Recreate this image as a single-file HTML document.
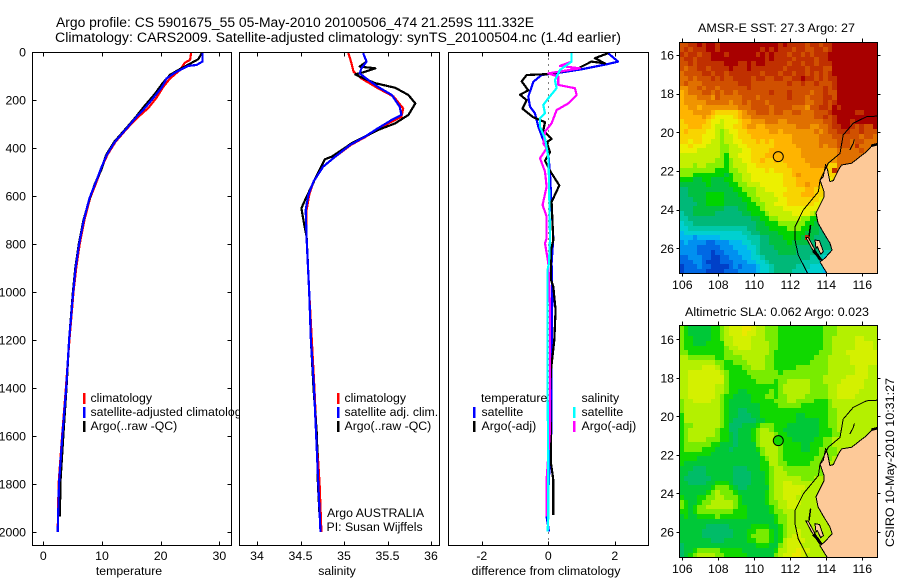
<!DOCTYPE html>
<html lang="en">
<head>
<meta charset="utf-8">
<title>Argo profile CS 5901675_55</title>
<style>
html,body{margin:0;padding:0;background:#fff;}
svg{display:block;}
text{font-family:"Liberation Sans",sans-serif;font-size:12.3px;fill:#000;}
.title{font-size:13.5px;}
</style>
</head>
<body>
<svg id="chart" xmlns="http://www.w3.org/2000/svg" width="900" height="580" viewBox="0 0 900 580">
  <rect x="0" y="0" width="900" height="580" fill="#fff"/>
  <text class="title" x="56" y="27" textLength="478" lengthAdjust="spacingAndGlyphs">Argo profile: CS 5901675_55 05-May-2010 20100506_474 21.259S 111.332E</text>
  <text class="title" x="55" y="42" textLength="566" lengthAdjust="spacingAndGlyphs">Climatology: CARS2009. Satellite-adjusted climatology: synTS_20100504.nc (1.4d earlier)</text>

  <g id="panel-temp"></g>
  <g>
    <rect x="83" y="393" width="2.5" height="11" fill="#f00"/>
    <text x="90.5" y="402">climatology</text>
    <rect x="83" y="407" width="2.5" height="11" fill="#00f"/>
    <text x="90.5" y="416">satellite-adjusted climatology</text>
    <rect x="83" y="421" width="2.5" height="11" fill="#000"/>
    <text x="90.5" y="430">Argo(..raw -QC)</text>
  </g>

  <rect x="239" y="46" width="204" height="502" fill="#fff"/>
  <g id="panel-sal"></g>
  <g>
    <rect x="337" y="393" width="2.5" height="11" fill="#f00"/>
    <text x="344.5" y="402">climatology</text>
    <rect x="337" y="407" width="2.5" height="11" fill="#00f"/>
    <text x="344.5" y="416">satellite adj. clim.</text>
    <rect x="337" y="421" width="2.5" height="11" fill="#000"/>
    <text x="344.5" y="430">Argo(..raw -QC)</text>
  </g>
  <text x="327" y="517">Argo AUSTRALIA</text>
  <text x="326.5" y="531">PI: Susan Wijffels</text>

  <g id="panel-diff"></g>
  <g>
    <text x="481" y="402">temperature</text>
    <rect x="473" y="407" width="2.5" height="11" fill="#00f"/>
    <text x="481.5" y="416">satellite</text>
    <rect x="473" y="421" width="2.5" height="11" fill="#000"/>
    <text x="481.5" y="430">Argo(-adj)</text>
    <text x="581.5" y="402">salinity</text>
    <rect x="573" y="407" width="2.5" height="11" fill="#0ff"/>
    <text x="581.5" y="416">satellite</text>
    <rect x="573" y="421" width="2.5" height="11" fill="#f0f"/>
    <text x="581.5" y="430">Argo(-adj)</text>
  </g>

  <text x="129" y="575" text-anchor="middle">temperature</text>
  <text x="337" y="575" text-anchor="middle">salinity</text>
  <text x="546" y="575" text-anchor="middle" textLength="149" lengthAdjust="spacingAndGlyphs">difference from climatology</text>

  <text x="698" y="32" textLength="157" lengthAdjust="spacingAndGlyphs">AMSR-E SST: 27.3 Argo: 27</text>
  <g id="map-sst"></g>
  <text x="685" y="316" textLength="184" lengthAdjust="spacingAndGlyphs">Altimetric SLA: 0.062 Argo: 0.023</text>
  <g id="map-sla"></g>
  <text transform="translate(894 547) rotate(-90)" x="0" y="0" textLength="169" lengthAdjust="spacingAndGlyphs">CSIRO 10-May-2010 10:31:27</text>
</svg>

<script>
// ---------- profile data ----------
const depthTicks = [0,200,400,600,800,1000,1200,1400,1600,1800,2000];
const tempTicks = [0,10,20,30];
const salTicks = [34,34.5,35,35.5,36];
const salTickLabels = ['34','34.5','35','35.5','36'];
const diffTicks = [-2,0,2];

const tempClimDepth = [0,33,45,75,110,147,190,233,270,318,374,429,478,533,610,700,800,900,1000,1200,1400,1600,1800,2000];
const tempClimValue = [25.2,25,24.1,23.3,21.6,20.4,19.3,17.9,16.2,14.3,12.3,10.9,10.0,9.2,7.95,7.0,6.2,5.6,5.15,4.45,3.85,3.2,2.6,2.45];
const tempSatDepth = [0,40,54,58,82,110,147,193,242,270,318,374,429,478,533,610,700,800,900,1000,1200,1400,1600,1800,2000];
const tempSatValue = [27.1,27.1,26.1,24.7,22.7,21,20.2,18.7,17,15.9,14.2,12.2,10.8,9.95,9.1,7.85,6.9,6.1,5.5,5.1,4.4,3.9,3.24,2.67,2.45];
const tempArgoDepth = [4,30,50,75,95,128,175,232,270,318,374,429,490,548,610,700,800,900,1000,1200,1400,1600,1800,1935];
const tempArgoValue = [27,26.4,24.9,23,21.6,20.4,19,17,15.8,14.1,12.1,10.7,9.9,8.8,7.9,6.85,6.05,5.45,5.05,4.4,3.95,3.4,2.9,2.85];

const salClimDepth = [4,40,82,110,151,186,235,270,290,318,353,387,436,478,540,596,658,776,1000,1200,1400,1600,1800,2000];
const salClimValue = [35.05,35.08,35.11,35.2,35.39,35.57,35.68,35.66,35.55,35.4,35.25,35.08,34.9,34.76,34.65,34.6,34.57,34.57,34.6,34.63,34.66,34.685,34.72,34.74];
const salSatDepth = [5,40,68,89,117,145,179,228,262,283,318,353,387,436,478,540,596,658,776,1000,1200,1400,1600,1800,2000];
const salSatValue = [35.22,35.26,35.2,35.18,35.28,35.39,35.55,35.64,35.66,35.55,35.39,35.24,35.07,34.9,34.76,34.65,34.59,34.56,34.57,34.6,34.62,34.655,34.68,34.705,34.73];
const salArgoDepth = [5,40,61,68,85,93,103,130,149,179,214,262,297,325,380,436,447,505,603,651,714,770,1000,1200,1400,1600,1800,1935];
const salArgoValue = [35.22,35.26,35.18,35.36,35.22,35.13,35.18,35.36,35.59,35.74,35.82,35.74,35.59,35.39,35.09,34.86,34.78,34.7,34.57,34.51,34.54,34.57,34.6,34.62,34.65,34.69,34.7,34.72];

const diffTempSatDepth = [5,40,50,72,89,96,124,186,228,256,311,367,422,506,644,776,880,1000,1297,1575,1644,1783,1936,1998];
const diffTempSatValue = [1.8,2.1,1.8,1,0.2,-0.2,-0.45,-0.6,-0.55,-0.4,-0.3,-0.15,0,0.05,0.1,0.15,0.1,0.12,0.1,0.1,0.05,0.02,-0.05,0.02];
const diffTempArgoDepth = [5,26,47,40,68,92,96,122,160,178,201,236,272,292,327,362,376,417,453,495,556,625,785,825,950,978,1075,1200,1325,1422,1603,1714,1783,1930];
const diffTempArgoValue = [1.8,1.4,1.7,1.3,0.9,0,-0.65,-0.8,-0.6,-0.85,-0.65,-0.78,-0.45,-0.1,-0.15,0.1,-0.05,0.05,-0.1,0.05,0.33,0.1,0.15,0.08,0.08,0.15,0.22,0.18,0.08,0.05,0.08,0.08,0.15,0.15];
const diffSalSatDepth = [5,40,75,117,151,193,221,256,276,311,360,436,533,776,880,908,1436,1714,1936,1998];
const diffSalSatValue = [0.7,0.7,0.35,0.2,0.25,0,-0.15,-0.1,-0.25,-0.25,-0.1,0,0.02,0.05,0.02,-0.02,-0.02,0,0,-0.02];
const diffSalArgoDepth = [5,40,58,68,89,103,137,151,179,214,242,297,332,381,401,443,498,561,637,686,776,797,880,1060,1575,1783,1936];
const diffSalArgoValue = [0.7,0.7,0.35,0.95,0,0.3,0.3,0.8,0.85,0.6,0.25,0.1,-0.1,-0.15,-0.05,-0.25,-0.1,-0.05,-0.17,-0.05,-0.05,-0.1,0,0.05,0.05,-0.05,-0.05];

// ---------- map data: one letter per 0.25 degree cell, north to south ----------
const mapLonTicks = [106,108,110,112,114,116];
const mapLatTicks = [16,18,20,22,24,26];
const sstRows = [
"qqrrsrssrss sssssssssss rsrrrrqrrqr rssssssssss",
"qrqrrrssrss sssssssrsrs rrrqrrqqrrq rssssssssss",
"rqrrqrrsssr ssssssrsrsr rrqrrqrqrrr sssssssssss",
"qrrqrrrssss ssssssssrsr rrrqrrrrqrr sssssssssss",
"qqrqrrrrrrs ssrrsrssrrr rrqrrqrrqrr rssssssssss",
"qpqqrrqrrrr srrrsrrrrrr rqrrrrqrrrq qssssssssss",
"pqqqqrrqrrq rrrrrrrqrrr qrrqrrqrqrq rssssssssss",
"ppqpqqqrqrq qrrrrqrrqqr rqqrrsrrqrq rrsssssssss",
"pqpppqqqqqq qqrrrqqqqqq qqrqqrqqrqq qrsssssssss",
"ooppqpqqpqq qqqqrqqqqqq qqqqqqqqqqr qrsssssssss",
"nopppqqpqpq qpqqqqqqqrq qqrqqqqpqqr qqsssssssss",
"nooopppoqpp pppqqqpqqqq qqrqqqpqqqr rqsssssssss",
"noooooppppp oppqpqqqpqq qqqqqqppqqr qrsssssssss",
"nnoonoooooo oopppqqqqpq qqqpppoqqrr qsrssssssss",
"nnnoooonmmm mmnoppqqqpq qppqqpppqqq rsssssrrsss",
"nnnnnonmlll lmnoopppppp ppppppppqqr qrsssssssss",
"mnnnnnmllkl llmnnoooppp ooppppppppq qrsssrsssss",
"mmnnnmmlkkl lmmnoonnooo oooopppoopp qrrssrqrqqs",
"mnmmmmllkjk llmmnnnnnoo nooooooopop qqrrrqqrqqq",
"mmmmmlllkjk klmmmnnnnnn nnnoooooopp pqqqqqqpqqp",
"mmlmmllkkjk kllmmmnmnmn nnnoooooopp ppqqqpqqppp",
"llmlllkkkjj kkllmmmmmmn nnnnooooopo ppqqqprpppp",
"llllkkkkkjj kkkllmmmmnn nnnnnoooooo oopppppqppp",
"kkkkkkkkkji kklllmmmnnn mnnnnoooooo ooppppppppp",
"kkkkkkkkjji jkkllmmnmmn mnnnnnooooo ooppppppppp",
"kkkjkkjjjji jkkkllmmmmm mmnnnnnoooo mmppppppppp",
"jjjjjjjjiii jjkkllllmlm mmmnnnnnnnn mrppppppppp",
"jjjiiiiiiih ijjkkllllll lmmnonnnnnn mmppppppppp",
"iiihhiihhhi ijjkkllllll lmmmnnnnnnn lmppppppppp",
"hhhhhhihhhh iijjkkkllll lmmmnnonnmm mpppppppppp",
"gghhhhhhhhh hiijjjkklll llmmmmnnmmm mpppppppppp",
"gghhhhiiiih hhiijjkkkkl lmmmmnnnmmm mpppppppppp",
"ggghhhiiiih hhhiijjkkkk llmmmmmmmll lpppppppppp",
"gggghhiiiih hhhhiijjkkl llmmmmmmlll kpppppppppp",
"ggghhhhhhhg gghhiiijkkk kllllllllkk kpppppppppp",
"fgghhhhhggg ggghhiiijkk kkkllllkjjj ppppppppppp",
"ffggggggggg ggggghhiijj kkkkkjjiiih ppppppppppp",
"effgggggggg gggggghhiii jjjjjjiihhh gfppppppppp",
"eefffffffff ffffgghhhii iijjjiihhgg ggppppppppp",
"deeeeeeeeee eeeffgghhhh iiiiiihhhgg ggppppppppp",
"dddcdddddee eeeefffgghh hiiiihrhggg ggppppppppp",
"cdccccbbccc dddeeffgghh hhihhhhgggg ggppppppppp",
"ccccbbbbbcc cdddeefgggh hhhhggggggg ghppppppppp",
"ccccbbbabbc ccdddefgggg hhhhgggggff fhppppppppp",
"bbcccbbaabb cccddeefggg gggggggfffe fgppppppppp",
"bbbccbaaabb bcccddeefgg gggggffffee eeppppppppp",
"abbbcbbaaaa bcbcccdeefg ggggfffeeee eeppppppppp",
"abbbbbaaaab bbccccdeefg gggfffeeeed ddppppppppp"
];
const slaRows = [
"jihhhhhiijk lllmmlkkjjj iiiiiiiiiij jjkkkkkkkkk",
"jihhhhhiijk lllmllkkjjj iiiiiiiiiij jjkkkkkkkkk",
"jiihhhhiijk kllllkkkjjj iiiiiiiiiij jkkkkkllkkk",
"jiihhhiiiik kllllkkkkjj iiiiiiiiiij jkkkkkllllk",
"jiiiiiiiiij kklllkkkkjj iiiiiiiiiij jkkkkkllllk",
"jjiiiiiiiij jkkkkkkkkji iiiiiiiiijj jkkklllllll",
"kkjjjjjjiij jjjkkkkkjji iiiiiiiijjj kkkkkllllll",
"kkkkkkkkjji ijjjkkkkjji iiiiiiijjjj kkkkkllllll",
"kkkkklllkji iiijjkkkjji iiiijjjjjjj kkkkkklllkk",
"kklllllllkj iiiijjjjjjj ijjjjjjjjjj kkkkkklllkk",
"kkllllllllj iiiiijjjjjj jjjjjjjjjjk kkkklllllkk",
"kkllllllllj iiiiiijjjji jjkkkkkjjjk kkklllllkkk",
"kkllllllkkj iiiiiiiiiii jkkkkkkjjjj kkllllllkkk",
"kkllllllkkj iihhiiiiiji jkkkkkkjjjj kklllllkkkk",
"kkllllllkji ihhhhiiijji jjkkkkjjjjj kkllllkkkkk",
"jkkllllkkji hhhhhiiiiij jjkkjjjjiii jkkkkkkkkkk",
"jkkkkkkkkji hhhhhhhiiii jjjjjiiiiii jkkkkkkkkkk",
"jkkkkkkkkji hhgghhhiiii iiiiiiiiiii jjkkkkkkkkk",
"ikkkkkkkkji hhggghhiiii iiiihhiiiii jjkkkkkkkkk",
"ikkkkkkkkji hggggghhiii iiiihhhhhii jjkkkkkkkkk",
"ijjkkkkkkji ggghhhijjji iihhhhhhhii jjkkkkkkkkk",
"ijkkkkkkjii gghhhijkkji ihhhhhhhhii ijkkkkkkkkk",
"ijkkkkkkjii hghhhijkkkj iihhhhhhhii ijjkkkkkkkk",
"ijkkkkjjjii hghhhijkkkk iiihhhhhiij jkkkkkkkkkk",
"ijjjjjjiihh hghhhhjkkkk jiiiihhiiij jkkkkkkkkkk",
"ijjjjiiihhh ghhhhhijkkk jiiiihhiijj jjkkkkkkkkk",
"iiiiiiihhhh hhhhhhhjkkk jiiiiiiiijj jjkkkkkkkkk",
"iiiihhhhhhh hhhhhhhijkk jiiiiiiijjj jkkkkkkkkkk",
"ihhhhhhhhhh hhhhhhhiikk jjiiiiijjjj kkkkkkkkkkk",
"hhhggghhhhh hggghhhiijk kjjjjjjjjjj kkkkkkkkkkk",
"hhgggghhhhh hgggghhhijk kkjjjjjjjjk kkkkkkkkkkk",
"hgggggghhhh hgggghhhijk kkkkkjjjkkk kkkkkkkkkkk",
"hhgggghhiii hgggghhhijk kllkkkkkkkk kkkkkkkkkkk",
"hhhhhhhijjj ihgghhhhhjk klllllkkkkk kkkkkkkkkkk",
"hhhhhhijkjj jihhhhhhijk kllllkkkkkk kkkkkkkkkkk",
"ihhhiijjkkj jjihhhhhijk klllkkkkkkk kkkkkkkkkkk",
"jihhijjkkkk kjihhhhhijj kklllkkkkkk kkkkkkkkkkk",
"jihijjkkkkk kjiihhhhhij kkllkkkkkkk kkkkkkkkkkk",
"iihijjjjjjj jiiihhhhhij jkkkkkkkkkk kkkkkkkkkkk",
"hihhiiiijii iiiihhhhhhi jjkkkkkkkkk kkkkkkkkkkk",
"hhhhhhhhhhh hhhhhhhhhhi jjkkkkkkkkk kkkkkkkkkkk",
"hhhhhhggggg hhhhhiiiihh ijkkkkkkkkk kkkkkkkkkkk",
"hhhhhgggggg ghhhiijjjih ijkklkkkkkk kkkkkkkkkkk",
"hhhhhgggggg ghhhijjjjih ijkllkkkkkk kkkkkkkkkkk",
"hhhhhhhgggh hhhhiijjjih ikllllkkkkk kkkkkkkkkkk",
"ghhhhhhhhhh hhhhhhiiihh jklllkkkkkk kkkkkkkkkkk",
"ghhijjjjjii iiihhhhhhhi kkllmllkkkk kkkkkkkkkkk",
"ghijkkkkjji iiiihhhhhhj kllmmlkkkkk kkkkkkkkkkk"
];
const sstColours = {a:'#0040c8',b:'#0068e4',c:'#0090f0',d:'#00b8f0',e:'#00d0d0',f:'#00c8a8',g:'#00b878',h:'#00c040',i:'#00d400',j:'#88f000',k:'#c4f000',l:'#ecf000',m:'#f8d400',n:'#ffb400',o:'#f09400',p:'#e07000',q:'#d05000',r:'#c03000',s:'#a80000'};
const slaColours = {g:'#00bc68',h:'#00c838',i:'#10d800',j:'#78ec00',k:'#b4f000',l:'#d4f000',m:'#ece800'};
const gridWestLon = 105.83;
const gridNorthLat = 15.33;
const gridStep = 0.25;

const coastLon = [116.83,116.52,116.24,115.87,115.41,114.85,114.67,114.39,114.2,114.07,113.96,113.83,113.65,113.87,113.87,113.43,113.54,113.85,114.2,114.32,113.93,113.65,114.04];
const coastLat = [20.66,20.71,21,21.26,21.6,21.69,21.95,22.5,22.55,21.95,21.69,22.29,22.47,23.07,23.35,24.17,24.69,25.2,25.73,26.09,26.5,26.71,27.3];
const isobathLon = [116.83,116.24,115.5,114.94,114.76,114.11,113.65,113.56,112.72,112.26,112.26,112.44,112.96];
const isobathLat = [19.16,19.19,19.53,20.14,21.09,21.6,22.47,23.07,24.02,24.88,25.57,26.34,27.3];
const barrowLon = [115.56,115.5,115.31];
const barrowLat = [20.36,20.57,20.91];
const bernierLon = [113.13,113.04];
const bernierLat = [24.79,25.4];
const hartogLon = [112.87,113.19,113.62,113.74,113.43,113];
const hartogLat = [25.44,26,26.61,26.61,26.18,25.44];
const peronLon = [113.37,113.62,113.84,113.69,113.5,113.43];
const peronLat = [25.57,25.61,26.18,26.3,25.92,26];
const reefLon = [113.28,113.5,113.69];
const reefLat = [26.12,26.35,26.61];
const capeLon = [116.83,116.5];
const capeLat = [20.62,20.69];
const floatLon = 111.332;
const floatLat = 21.259;
const sstFloatLevel = 'n';
const slaFloatLevel = 'i';
const landColour = '#fdc998';

// ---------- axis functions ----------
const depthY = d => 52 + d * 0.24;
const tempX = v => 43.3 + v * 5.87;
const salX = v => 257 + (v - 34) * 87;
const diffX = v => 548.3 + v * 33.25;
const lonX = lon => 682.3 + (lon - 106) * 18;
const sstLatY = lat => 55 + (lat - 16) * 19.33;
const slaLatY = lat => 339.3 + (lat - 16) * 19.27;

const NS = 'http://www.w3.org/2000/svg';
function make(tag, attrs, parent) {
  const n = document.createElementNS(NS, tag);
  for (const k in attrs) n.setAttribute(k, attrs[k]);
  parent.appendChild(n);
  return n;
}
function frame(parent, x0, y0, x1, y1, name) {
  const r = make('rect', {x:x0, y:y0, width:x1-x0, height:y1-y0, fill:'none', stroke:'#000', 'stroke-width':1, 'shape-rendering':'crispEdges'}, parent);
  
  
}
function tick(parent, x1, y1, x2, y2) {
  const l = make('line', {x1, y1, x2, y2, stroke:'#000', 'stroke-width':1, 'shape-rendering':'crispEdges'}, parent);
  
  
}
function label(parent, x, y, str, anchor) {
  const t = make('text', {x, y, 'text-anchor':anchor}, parent);
  t.textContent = str;
  
  
}
function profile(parent, xFn, values, depths, colour, name) {
  const pts = values.map((v, i) => xFn(v).toFixed(1) + ',' + depthY(depths[i]).toFixed(1)).join(' ');
  const p = make('polyline', {points:pts, fill:'none', stroke:colour, 'stroke-width':2.2, 'stroke-linejoin':'round', 'shape-rendering':'crispEdges'}, parent);
  
  
}
function bottomTopTicks(parent, ticks, labels, xFn) {
  ticks.forEach((v, i) => {
    const x = Math.round(xFn(v)) + 0.5;
    tick(parent, x, 52.5, x, 56.5);
    tick(parent, x, 545.5, x, 541.5);
    label(parent, xFn(v), 560, labels[i], 'middle');
  });
}

// ---------- temperature panel ----------
const gT = document.getElementById('panel-temp');
profile(gT, tempX, tempClimValue, tempClimDepth, '#f00', 'climatology-temperature-line');
profile(gT, tempX, tempArgoValue, tempArgoDepth, '#000', 'argo-temperature-line');
profile(gT, tempX, tempSatValue, tempSatDepth, '#00f', 'satellite-temperature-line');
frame(gT, 32.5, 52.5, 231.5, 545.5, 'temperature-plot-frame');
depthTicks.forEach(d => {
  const y = Math.round(depthY(d)) + 0.5;
  tick(gT, 32.5, y, 36.5, y);
  tick(gT, 231.5, y, 227.5, y);
  label(gT, 26, depthY(d) + 4.5, String(d), 'end');
});
bottomTopTicks(gT, tempTicks, tempTicks.map(String), tempX);

// ---------- salinity panel ----------
const gS = document.getElementById('panel-sal');
profile(gS, salX, salClimValue, salClimDepth, '#f00', 'climatology-salinity-line');
profile(gS, salX, salArgoValue, salArgoDepth, '#000', 'argo-salinity-line');
profile(gS, salX, salSatValue, salSatDepth, '#00f', 'satellite-salinity-line');
frame(gS, 239.5, 52.5, 439.5, 545.5, 'salinity-plot-frame');
bottomTopTicks(gS, salTicks, salTickLabels, salX);

// ---------- difference panel ----------
const gD = document.getElementById('panel-diff');
const zeroLine = make('line', {x1:diffX(0), y1:52.5, x2:diffX(0), y2:545.5, stroke:'#000', 'stroke-width':1, 'stroke-dasharray':'1 5', 'shape-rendering':'crispEdges'}, gD);


profile(gD, diffX, diffTempSatValue, diffTempSatDepth, '#00f', 'temperature-satellite-difference-line');
profile(gD, diffX, diffTempArgoValue, diffTempArgoDepth, '#000', 'temperature-argo-difference-line');
profile(gD, diffX, diffSalArgoValue, diffSalArgoDepth, '#f0f', 'salinity-argo-difference-line');
profile(gD, diffX, diffSalSatValue, diffSalSatDepth, '#0ff', 'salinity-satellite-difference-line');
frame(gD, 448.5, 52.5, 648.5, 545.5, 'difference-plot-frame');
bottomTopTicks(gD, diffTicks, diffTicks.map(String), diffX);

// ---------- maps ----------
function coastPoints(lons, lats, latY) {
  return lons.map((lon, i) => lonX(lon).toFixed(1) + ',' + latY(lats[i]).toFixed(1)).join(' ');
}
function coastLine(parent, lons, lats, latY, width, name) {
  const p = make('polyline', {points:coastPoints(lons, lats, latY), fill:'none', stroke:'#000', 'stroke-width':width, 'shape-rendering':'crispEdges'}, parent);
  
  
}
function landShape(parent, lons, lats, latY, name) {
  const p = make('polygon', {points:coastPoints(lons, lats, latY), fill:landColour, stroke:'#000', 'stroke-width':1, 'shape-rendering':'crispEdges'}, parent);
  
  
}
function drawMap(id, rows, palette, latY, top, bottom, labelBase, floatLevel, prefix) {
  const g = document.getElementById(id);
  rows.forEach((rowStr, r) => {
    const cells = rowStr.replace(/ /g, '');
    for (let c = 0; c < cells.length; c++) {
      const x0 = Math.round(lonX(gridWestLon + c * gridStep));
      const x1 = Math.round(lonX(gridWestLon + (c + 1) * gridStep));
      const y0 = Math.round(latY(gridNorthLat + r * gridStep));
      const y1 = Math.round(latY(gridNorthLat + (r + 1) * gridStep));
      const cell = make('rect', {x:x0, y:y0, width:x1 - x0, height:y1 - y0, fill:palette[cells[c]], 'shape-rendering':'crispEdges'}, g);
      
      
    }
  });
  const landLon = coastLon.concat([116.83]);
  const landLat = coastLat.concat([27.3]);
  const land = make('polygon', {points:coastPoints(landLon, landLat, latY), fill:landColour, stroke:'none'}, g);
  
  
  coastLine(g, coastLon, coastLat, latY, 1, 'coastline');
  coastLine(g, isobathLon, isobathLat, latY, 1, 'shelf-isobath');
  coastLine(g, barrowLon, barrowLat, latY, 1, 'barrow-island');
  coastLine(g, bernierLon, bernierLat, latY, 1.5, 'bernier-island');
  landShape(g, hartogLon, hartogLat, latY, 'dirk-hartog-island');
  landShape(g, peronLon, peronLat, latY, 'peron-peninsula');
  coastLine(g, reefLon, reefLat, latY, 3, 'shark-bay-shallows');
  coastLine(g, capeLon, capeLat, latY, 2.5, 'north-west-shoals');
  const dot = make('circle', {cx:lonX(floatLon), cy:latY(floatLat), r:5, fill:palette[floatLevel], stroke:'#000', 'stroke-width':1}, g);
  
  
  frame(g, 679.5, top, 877.5, bottom, prefix + '-map-frame');
  mapLonTicks.forEach(lon => {
    const x = Math.round(lonX(lon)) + 0.5;
    tick(g, x, top, x, top - 4);
    tick(g, x, bottom, x, bottom + 3);
    label(g, lonX(lon), labelBase, String(lon), 'middle');
  });
  mapLatTicks.forEach(lat => {
    const y = Math.round(latY(lat)) + 0.5;
    tick(g, 679.5, y, 676.5, y);
    tick(g, 877.5, y, 880.5, y);
    label(g, 674, latY(lat) + 4.5, String(lat), 'end');
  });
}
drawMap('map-sst', sstRows, sstColours, sstLatY, 42.5, 273.5, 289, sstFloatLevel, 'sst');
drawMap('map-sla', slaRows, slaColours, slaLatY, 325.5, 557.5, 573, slaFloatLevel, 'sla');
</script>
</body>
</html>
